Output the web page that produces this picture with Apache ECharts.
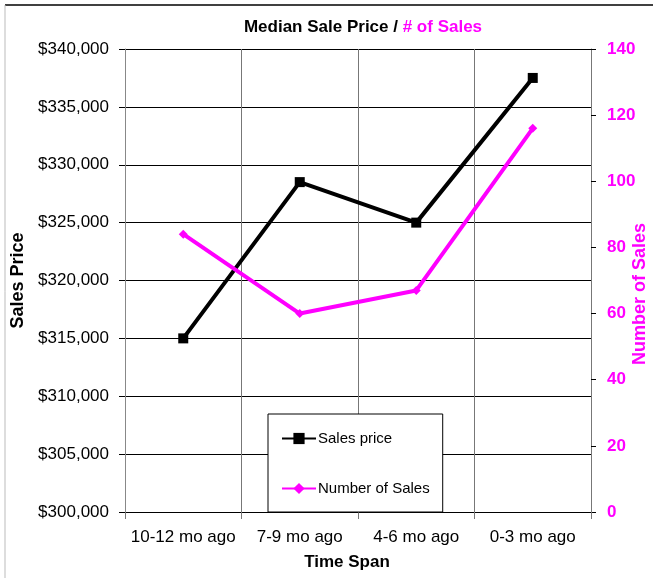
<!DOCTYPE html>
<html>
<head>
<meta charset="utf-8">
<script src="https://cdn.jsdelivr.net/npm/echarts@6/dist/echarts.min.js"></script>
<style>
html, body { margin: 0; padding: 0; background: #fff; }
#main { width: 653px; height: 578px; }
</style>
</head>
<body>
<div id="main"></div>
<script>
var categories = ['10-12 mo ago', '7-9 mo ago', '4-6 mo ago', '0-3 mo ago'];
var salesPrice = [315000, 328500, 325000, 337500];
var numberOfSales = [84, 60, 67, 116];

// 金额格式
var money = function(v) {
	return '$' + String(v).replace(/\B(?=(\d{3})+(?!\d))/g, ',');
};

var myChart = echarts.init(document.getElementById('main'));
var font = 'Liberation Sans, Arial, sans-serif';
var option = {
	backgroundColor : '#fff',
	animation : false,
	textStyle : { fontFamily : font },
	title : {
		text : '{a|Median Sale Price / }{b|# of Sales}',
		left : 358,
		textAlign : 'center',
		top : 14,
		textStyle : {
			rich : {
				a : { fontSize : 17, fontWeight : 'bold', color : '#000', fontFamily : font },
				b : { fontSize : 17, fontWeight : 'bold', color : '#ff00ff', fontFamily : font }
			}
		}
	},
	graphic : [
		{ type : 'line', shape : { x1 : 5, y1 : 5, x2 : 653, y2 : 5 }, style : { stroke : '#000', lineWidth : 1.5 } },
		{ type : 'line', shape : { x1 : 5, y1 : 5, x2 : 5, y2 : 578 }, style : { stroke : '#bbb', lineWidth : 1 } },
		// 右轴名称
		{
			type : 'text',
			x : 640,
			y : 294,
			rotation : Math.PI / 2,
			style : {
				text : 'Number of Sales',
				fill : '#ff00ff',
				font : 'bold 18px ' + font,
				align : 'center',
				verticalAlign : 'middle'
			}
		}
	],
	grid : {
		left : 125,
		right : 62,
		top : 49,
		bottom : 66,
		containLabel : false,
		outerBoundsMode : 'none'
	},
	legend : {
		orient : 'vertical',
		left : 268,
		top : 414,
		padding : [17, 13, 16, 13],
		itemGap : 35,
		itemWidth : 34,
		itemHeight : 14,
		borderColor : '#000',
		borderWidth : 1,
		backgroundColor : '#fff',
		textStyle : { fontSize : 15, color : '#000', fontFamily : font, padding : [0, 0, 0, -3] },
		data : ['Sales price', 'Number of Sales']
	},
	xAxis : [ {
		type : 'category',
		data : categories,
		boundaryGap : true,
		name : 'Time Span',
		nameLocation : 'middle',
		nameGap : 42,
		nameTextStyle : { fontSize : 17, fontWeight : 'bold', color : '#000', padding : [0, 22, 0, 0] },
		axisLine : { lineStyle : { color : '#000', width : 1 } },
		axisTick : { show : true, interval : 0, length : 7, lineStyle : { color : '#777' } },
		axisLabel : { fontSize : 17, color : '#000', margin : 17, interval : 0 },
		splitLine : { show : true, interval : 0, lineStyle : { color : '#777', width : 1 } }
	} ],
	yAxis : [ {
		type : 'value',
		min : 300000,
		max : 340000,
		interval : 5000,
		name : 'Sales Price',
		nameLocation : 'middle',
		nameGap : 98,
		nameTextStyle : { fontSize : 18, fontWeight : 'bold', color : '#000' },
		axisLine : { show : true, lineStyle : { color : '#888' } },
		axisTick : { show : true, length : 6, lineStyle : { color : '#000' } },
		axisLabel : { fontSize : 17, color : '#000', margin : 16, formatter : money },
		splitLine : { show : true, lineStyle : { color : '#000', width : 1 } }
	}, {
		type : 'value',
		min : 0,
		max : 140,
		interval : 20,
		position : 'right',
		axisLine : { show : true, lineStyle : { color : '#777' } },
		axisTick : { show : true, length : 5, lineStyle : { color : '#000' } },
		axisLabel : { fontSize : 17, fontWeight : 'bold', color : '#ff00ff', margin : 16 },
		splitLine : { show : false }
	} ],
	series : [ {
		name : 'Sales price',
		type : 'line',
		yAxisIndex : 0,
		data : salesPrice,
		symbol : 'rect',
		symbolSize : 10,
		lineStyle : { color : '#000', width : 4 },
		itemStyle : { color : '#000' }
	}, {
		name : 'Number of Sales',
		type : 'line',
		yAxisIndex : 1,
		data : numberOfSales,
		symbol : 'diamond',
		symbolSize : 9,
		lineStyle : { color : '#ff00ff', width : 4 },
		itemStyle : { color : '#ff00ff' }
	} ]
};
myChart.setOption(option);
</script>
</body>
</html>
